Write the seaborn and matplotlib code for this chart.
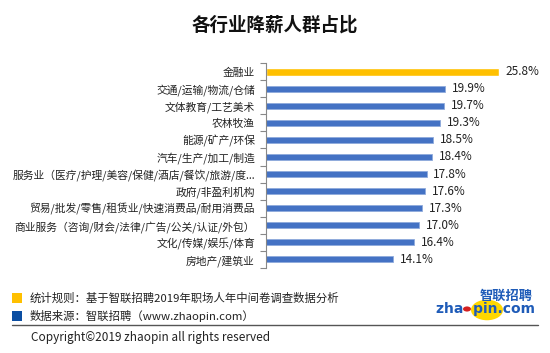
import matplotlib
matplotlib.use("Agg")
import matplotlib.pyplot as plt
import seaborn as sns
import pandas as pd
from matplotlib.patches import Rectangle, Circle
from matplotlib.lines import Line2D

categories = ["金融业", "交通/运输/物流/仓储", "文体教育/工艺美术", "农林牧渔", "能源/矿产/环保",
              "汽车/生产/加工/制造", "服务业（医疗/护理/美容/保健/酒店/餐饮/旅游/度...",
              "政府/非盈利机构", "贸易/批发/零售/租赁业/快速消费品/耐用消费品",
              "商业服务（咨询/财会/法律/广告/公关/认证/外包）", "文化/传媒/娱乐/体育", "房地产/建筑业"]
values = [25.8, 19.9, 19.7, 19.3, 18.5, 18.4, 17.8, 17.6, 17.3, 17.0, 16.4, 14.1]
labels = ["25.8%", "19.9%", "19.7%", "19.3%", "18.5%", "18.4%", "17.8%", "17.6%", "17.3%", "17.0%", "16.4%", "14.1%"]
title = "各行业降薪人群占比"
note1 = "统计规则：基于智联招聘2019年职场人年中间卷调查数据分析"
note2 = "数据来源：智联招聘（www.zhaopin.com）"
copyright_text = "Copyright©2019 zhaopin all rights reserved"

sns.set_theme(style="white")
plt.rcParams['font.family'] = ['Noto Sans CJK SC', 'DejaVu Sans']

df = pd.DataFrame({"cat": categories, "val": values})
W, H = 550, 353
fig = plt.figure(figsize=(5.5, 3.53), dpi=100)
ax = fig.add_axes([266 / W, 1 - 268 / H, (550 - 266) / W, (268 - 63) / H])

yellow = "#FFC000"
blue = "#4472C4"
sns.barplot(data=df.iloc[:1], x="val", y="cat", order=categories, color=yellow,
            width=0.47, ax=ax, saturation=1)
sns.barplot(data=df.iloc[1:], x="val", y="cat", order=categories, color=blue,
            width=0.35, ax=ax, saturation=1, edgecolor="#8FAADC", linewidth=0.6)

ax.set_xlim(0, (550 - 266) / 9.02)
ax.set_ylim(11.5, -0.5)
ax.set_xlabel("")
ax.set_ylabel("")
ax.set_xticks([])
for s in ["top", "right", "bottom"]:
    ax.spines[s].set_visible(False)
ax.spines["left"].set_color("#888888")
ax.spines["left"].set_linewidth(0.8)
ax.tick_params(axis="y", which="major", length=0, pad=8, labelsize=7.75, labelcolor="#222222")
ax.set_yticks([i + 0.5 for i in range(-1, 12)], minor=True)
ax.tick_params(axis="y", which="minor", length=4, color="#888888", width=0.8, left=True)

for i, (v, lab) in enumerate(zip(values, labels)):
    ax.text(v + 0.75, i, lab, va="center", ha="left", fontsize=8.5, color="#222222")

fig.text(275 / W, 1 - 25 / H, title, ha="center", va="center", fontsize=13.3, fontweight="bold", color="#111111")

# footer
fig.patches.append(Rectangle((12 / W, 1 - 303 / H), 10 / W, 10 / H, transform=fig.transFigure,
                             facecolor="#FFC000", edgecolor="none"))
fig.patches.append(Rectangle((12 / W, 1 - 321 / H), 10 / W, 10 / H, transform=fig.transFigure,
                             facecolor="#0B4EA2", edgecolor="none"))
fig.text(30 / W, 1 - 298 / H, note1, ha="left", va="center", fontsize=8.2, color="#222222")
fig.text(30 / W, 1 - 316 / H, note2, ha="left", va="center", fontsize=8.2, color="#222222")
fig.lines.append(Line2D([12 / W, 538 / W], [1 - 325 / H, 1 - 325 / H], transform=fig.transFigure,
                        color="#555555", linewidth=1.0))
fig.text(31 / W, 1 - 338 / H, copyright_text, ha="left", va="center", fontsize=8.5, color="#222222")

# logo
fig.patches.append(Circle((487 / W, 1 - 310 / H), 16 / W, transform=fig.transFigure,
                          facecolor="#FFD700", edgecolor="none"))
fig.text(506 / W, 1 - 296 / H, "智联招聘", ha="center", va="center", fontsize=9.5,
         fontweight="bold", style="italic", color="#1E5BB8")
fig.text(486 / W, 1 - 309 / H, "zha  pin.com", ha="center", va="center", fontsize=10,
         fontweight="bold", color="#1E5BB8", family="DejaVu Sans")
fig.patches.append(Circle((467 / W, 1 - 309 / H), 4 / W, transform=fig.transFigure,
                          facecolor="#D42020", edgecolor="none"))

fig.savefig("out.png", dpi=100)
